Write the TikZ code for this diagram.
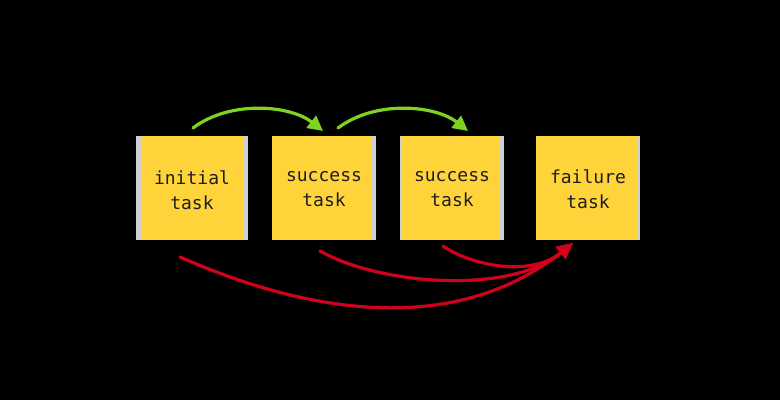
\documentclass[tikz,border=0pt]{standalone}
\usepackage{fontspec}
\setmonofont{DejaVu Sans Mono}
\usetikzlibrary{arrows.meta}
\definecolor{boxyellow}{HTML}{FFD43B}
\definecolor{edgegray}{HTML}{D0D0D0}
\definecolor{okgreen}{HTML}{7ED321}
\definecolor{badred}{HTML}{D0021B}
\definecolor{ink}{HTML}{1E1E1E}
\tikzset{
  edge/.style={draw=none,fill=edgegray},
  taskbox/.style={fill=boxyellow,draw=none,inner sep=0pt},
  tasklabel/.style={text=ink,font=\ttfamily\fontsize{18}{25}\selectfont,align=center,inner sep=0pt},
  okarrow/.style={draw=okgreen,line width=3.2pt,line cap=round,-{Triangle[length=15pt,width=15pt]}},
  badarrow/.style={draw=badred,line width=3.2pt,line cap=round,-{Triangle[length=16pt,width=15pt]}}
}
\begin{document}
\begin{tikzpicture}[x=1pt,y=-1pt]
\useasboundingbox (0,0) rectangle (780,400);
\fill[black] (0,0) rectangle (780,400);
% boxes
\fill[edge] (136,136) rectangle (248,240);
\fill[boxyellow] (142,136) rectangle (244,240);
\fill[edge] (272,136) rectangle (376,240);
\fill[boxyellow] (272,136) rectangle (372,240);
\fill[edge] (400,136) rectangle (504,240);
\fill[boxyellow] (401,136) rectangle (500,240);
\fill[edge] (536,136) rectangle (640,240);
\fill[boxyellow] (536,136) rectangle (638,240);
\node[tasklabel] (t1) at (192,190) {initial\\task};
\node[tasklabel] (t2) at (324,189) {success\\task};
\node[tasklabel] (t3) at (452,189) {success\\task};
\node[tasklabel] (t4) at (588,189) {failure\\task};
% anchor points
\coordinate (g1s) at (193,128);
\coordinate (g1e) at (323,131);
\coordinate (g2s) at (338,128);
\coordinate (g2e) at (468,131);
\coordinate (r1s) at (180,257);
\coordinate (r2s) at (320,251);
\coordinate (r3s) at (443,246);
\coordinate (rend) at (573,243);
% green arrows
\draw[okarrow] (g1s) .. controls (230,100) and (290,105) .. (g1e);
\draw[okarrow] (g2s) .. controls (375,100) and (435,105) .. (g2e);
% red arrows
\draw[badarrow] (r1s) .. controls (300,310) and (450,340) .. (rend);
\draw[badarrow] (r2s) .. controls (380,285) and (510,295) .. (rend);
\draw[badarrow] (r3s) .. controls (470,265) and (530,278) .. (rend);
\end{tikzpicture}
\end{document}
